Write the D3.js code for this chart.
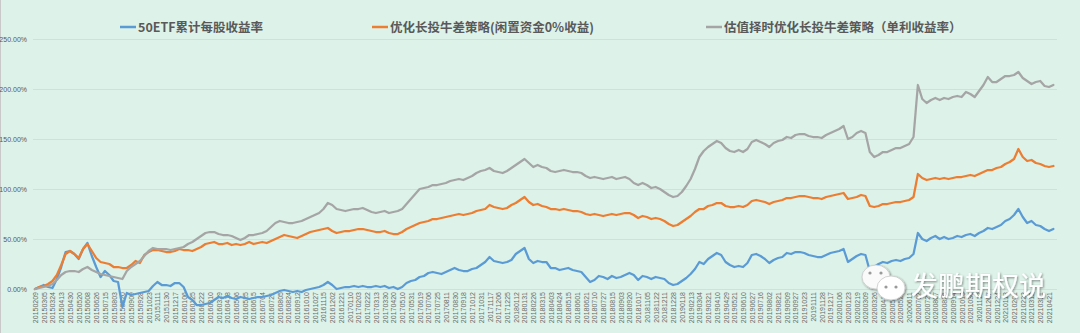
<!DOCTYPE html>
<html>
<head>
<meta charset="utf-8">
<script src="https://cdn.jsdelivr.net/npm/d3@7/dist/d3.min.js"></script>
<style>
  html, body { margin: 0; padding: 0; background: #ddf2e9; }
  svg { display: block; }
</style>
</head>
<body>
<svg id="chart" width="1080" height="333"></svg>
<script>
// Trading-date labels shown along the category axis (one every ~13 sessions)
const dateLabels = [
  "20150209","20150305","20150324","20150413","20150430","20150520","20150608","20150626","20150715","20150803",
  "20150820","20150909","20150928","20151023","20151111","20151130","20151217",
  "20160106","20160125","20160222","20160310","20160329","20160418","20160506","20160525","20160615","20160704",
  "20160721","20160805","20160824","20160912","20161010","20161027","20161115","20161202","20161221",
  "20170110","20170203","20170222","20170313","20170330","20170420","20170510","20170531","20170619","20170706",
  "20170725","20170811","20170830","20170918","20171012","20171031","20171117","20171206","20171225",
  "20180112","20180131","20180226","20180315","20180403","20180424","20180515","20180601","20180621","20180710",
  "20180727","20180815","20180903","20180920","20181017","20181105","20181122","20181211","20181228",
  "20190118","20190213","20190304","20190321","20190410","20190429","20190521","20190610","20190627","20190716",
  "20190802","20190821","20190909","20190927","20191023","20191111","20191128","20191217",
  "20200106","20200123","20200219","20200309","20200326","20200415","20200506","20200525","20200611","20200702",
  "20200721","20200807","20200826","20200914","20201013","20201030","20201118","20201207","20201224",
  "20210113","20210201","20210223","20210312","20210331","20210421"
];

// Cumulative returns (%), sampled twice per label interval
const etfReturn = [
  0,2,4,2,1,10,22,37,38,35,30,40,46,33,22,12,18,14,8,7,
  -18,-4,-6,-5,-4,-3,-2,3,7,4,4,3,6,6,2,-8,-11,-16,-16,-15,
  -14,-11,-8,-9,-7,-9,-10,-8,-9,-10,-9,-8,-8,-7,-6,-4,-2,-1,-2,-3,
  -2,-3,-1,0,1,2,4,7,4,0,1,2,2,3,2,3,2,2,3,2,
  3,1,2,0,2,6,8,9,12,13,16,17,16,15,17,19,21,19,18,18,
  20,21,24,27,32,28,27,26,27,29,35,38,41,30,26,28,27,27,21,21,
  19,20,21,19,18,17,12,7,9,13,12,10,13,11,12,14,16,14,9,13,
  12,10,12,11,10,6,4,5,8,11,15,20,27,25,30,33,36,34,27,24,
  22,23,22,26,34,35,33,30,26,29,31,32,36,35,37,37,36,34,33,32,
  32,34,36,37,38,40,27,30,33,35,34,18,22,25,27,26,28,29,28,30,
  31,35,56,50,48,51,53,50,52,50,51,53,52,54,55,53,56,58,61,60,
  62,64,68,70,74,80,72,66,68,64,63,60,58,60
];

const bullSpread = [
  0,2,3,5,8,14,24,35,38,35,31,40,45,38,31,27,26,25,22,22,
  21,21,24,28,26,34,37,39,39,38,37,37,38,40,39,39,38,40,42,45,
  46,47,45,45,46,44,45,44,45,47,45,46,47,46,48,50,52,54,53,52,
  51,53,55,57,58,59,60,61,58,56,57,58,58,59,60,60,59,58,57,57,
  58,56,55,55,57,60,62,64,66,67,68,70,70,71,72,73,74,75,74,75,
  76,78,79,80,84,82,81,80,81,84,86,89,92,87,84,85,83,82,80,80,
  79,80,79,78,78,77,75,74,75,74,73,74,75,74,75,76,76,74,71,73,
  72,70,71,70,68,65,63,64,67,70,73,77,80,80,83,84,86,86,83,82,
  82,83,82,84,88,89,88,87,85,87,88,89,91,91,92,93,93,92,91,91,
  90,92,93,94,95,96,90,91,92,94,93,83,82,83,85,85,86,87,87,88,
  89,92,115,111,109,110,111,110,111,110,111,112,112,113,114,113,115,117,119,119,
  121,122,125,127,130,140,132,128,129,126,125,123,122,123
];

const timedSpread = [
  0,1,2,3,5,9,14,17,18,18,17,20,22,19,17,15,14,13,12,11,
  10,18,22,25,28,33,38,41,40,40,40,39,40,41,42,45,47,50,53,56,
  57,57,55,54,54,53,51,49,51,54,54,55,56,58,62,66,68,67,66,66,
  67,68,70,72,74,76,80,86,84,80,79,78,79,80,80,81,79,77,76,77,
  78,76,77,78,80,85,90,95,100,101,102,104,104,105,106,108,109,110,109,111,
  113,116,118,119,121,118,117,116,118,121,124,127,130,126,122,124,122,121,118,117,
  118,119,118,117,117,116,113,111,112,111,110,111,112,110,111,112,110,106,104,106,
  104,101,102,100,97,94,92,93,97,103,110,120,132,138,142,145,148,146,141,138,
  137,139,137,140,147,149,147,145,142,146,148,149,152,151,154,155,155,153,152,152,
  151,154,156,158,160,163,150,152,156,158,156,137,132,134,137,137,139,141,141,143,
  145,152,204,190,186,189,191,189,191,190,192,193,192,197,195,192,198,204,212,207,
  207,210,213,213,214,217,211,208,205,207,208,203,202,204
];

const yTicks = [0, 50, 100, 150, 200, 250];

const seriesNames = [
  "50ETF累计每股收益率",
  "优化长投牛差策略(闲置资金0%收益)",
  "估值择时优化长投牛差策略（单利收益率）"
];
const seriesColors = ["#5b9bd5", "#ed7d31", "#a5a5a5"];

const svg = d3.select("#chart");
const W = 1080, H = 333;

svg.append("rect").attr("width", W).attr("height", H).attr("fill", "#ddf2e9");
svg.append("line").attr("x1", 0.5).attr("x2", 0.5).attr("y1", 0).attr("y2", H)
  .attr("stroke", "#c9c9c9").attr("stroke-width", 1);

const plotLeft = 33, plotRight = 1057;
const firstLabelX = 35, lastLabelX = 1049;

const y = d3.scaleLinear().domain([0, 250]).range([289, 39]);

// category axis positions for labels, and matching linear scale for the samples
const xLabel = d3.scalePoint().domain(dateLabels).range([firstLabelX, lastLabelX]);
const xSample = d3.scaleLinear()
  .domain([0, (dateLabels.length - 1) * 2])
  .range([firstLabelX, lastLabelX]);

// horizontal gridlines + value labels
const yAxis = d3.axisLeft(y)
  .tickValues(yTicks)
  .tickSize(-(plotRight - plotLeft))
  .tickPadding(6)
  .tickFormat(d => d.toFixed(2) + "%");

const gy = svg.append("g").attr("transform", `translate(${plotLeft},0)`).call(yAxis);
gy.select(".domain").remove();
gy.selectAll(".tick line").attr("stroke", "#cfe1d8").attr("stroke-width", 1);
gy.selectAll(".tick text")
  .attr("fill", "#595959")
  .attr("font-family", "'Liberation Sans', Arial, sans-serif")
  .attr("font-size", 7);

// rotated date labels under the zero line
const xAxis = d3.axisBottom(xLabel).tickSize(0).tickPadding(0);
const gx = svg.append("g").attr("transform", "translate(0,289)").call(xAxis);
gx.select(".domain").remove();
gx.selectAll(".tick text")
  .attr("transform", "rotate(-90)")
  .attr("x", -3)
  .attr("y", 0)
  .attr("dy", "0.35em")
  .attr("text-anchor", "end")
  .attr("fill", "#6a6a6a")
  .attr("font-family", "'Liberation Sans', Arial, sans-serif")
  .attr("font-size", 7);

// series lines
const line = d3.line()
  .x((d, i) => xSample(i))
  .y(d => y(d));

[etfReturn, bullSpread, timedSpread].forEach((vals, k) => {
  svg.append("path")
    .datum(vals)
    .attr("fill", "none")
    .attr("stroke", seriesColors[k])
    .attr("stroke-width", 2.25)
    .attr("stroke-linejoin", "round")
    .attr("stroke-linecap", "round")
    .attr("d", line);
});

// legend
const legendPos = [120, 372, 706];
const legend = svg.append("g");
seriesNames.forEach((name, k) => {
  const g = legend.append("g").attr("transform", `translate(${legendPos[k]},27)`);
  g.append("line").attr("x1", 0).attr("x2", 16).attr("y1", 0).attr("y2", 0)
    .attr("stroke", seriesColors[k]).attr("stroke-width", 2.5);
  g.append("text").attr("x", 18).attr("y", 0).attr("dy", "0.36em")
    .attr("fill", "#595959")
    .attr("font-family", "'Noto Sans CJK SC', sans-serif")
    .attr("font-weight", "bold")
    .attr("font-size", 12.5)
    .text(name);
});

// account watermark
const defs = svg.append("defs");
const f = defs.append("filter").attr("id", "shadow").attr("x", "-20%").attr("y", "-20%")
  .attr("width", "140%").attr("height", "140%");
f.append("feDropShadow").attr("dx", 1).attr("dy", 1).attr("stdDeviation", 1.2)
  .attr("flood-color", "#000").attr("flood-opacity", 0.45);

const wm = svg.append("g").attr("filter", "url(#shadow)");
wm.append("ellipse").attr("cx", 876).attr("cy", 277).attr("rx", 14).attr("ry", 12)
  .attr("fill", "#fafafa").attr("stroke", "#c8c8c8").attr("stroke-width", 0.8);
wm.append("ellipse").attr("cx", 891).attr("cy", 288).attr("rx", 14).attr("ry", 12)
  .attr("fill", "#ffffff").attr("stroke", "#c8c8c8").attr("stroke-width", 0.8);
[[870, 273], [881, 273]].forEach(p => wm.append("circle").attr("cx", p[0]).attr("cy", p[1]).attr("r", 1.6).attr("fill", "#9a9a9a"));
[[886, 287], [896, 287]].forEach(p => wm.append("circle").attr("cx", p[0]).attr("cy", p[1]).attr("r", 1.6).attr("fill", "#9a9a9a"));
wm.append("text").attr("x", 911).attr("y", 296)
  .attr("fill", "#ffffff")
  .attr("font-family", "'Noto Sans CJK SC', sans-serif")
  .attr("font-size", 27)
  .text("发鹏期权说");
</script>
</body>
</html>
